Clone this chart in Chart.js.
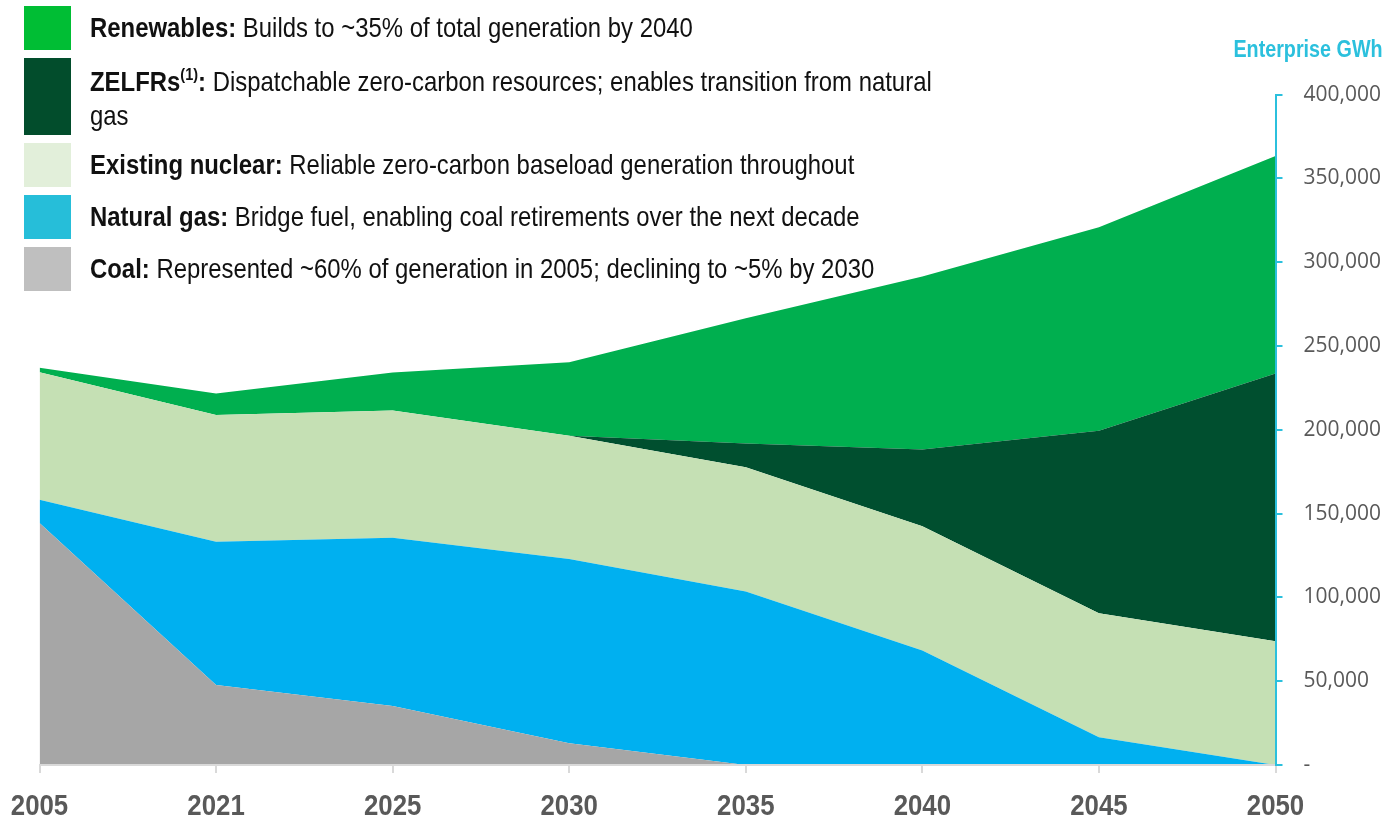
<!DOCTYPE html>
<html>
<head>
<meta charset="utf-8">
<script src="https://cdn.jsdelivr.net/npm/chart.js@4.4.1/dist/chart.umd.min.js"></script>
<style>
  html, body { margin: 0; padding: 0; background: #ffffff; }
  #wrap { position: relative; width: 1389px; height: 819px; overflow: hidden; }
  #chart { position: absolute; left: 0; top: 0; }
  .legend { position: absolute; left: 0; top: 0; font-family: "Liberation Sans", Arial, sans-serif; color: #111; font-size: 28px; line-height: 34px; }
  .item { position: absolute; left: 24px; }
  .swatch { position: absolute; left: 0; width: 47px; }
  .txt { position: absolute; left: 66px; white-space: nowrap; transform: scaleX(0.854); transform-origin: 0 0; }
  .txt b { font-weight: bold; }
  .txt sup { font-size: 17px; line-height: 0; vertical-align: 11px; }
  .unit { position: absolute; right: 6px; top: 36px; font-family: "Liberation Sans", Arial, sans-serif; font-weight: bold; font-size: 23.5px; color: #2BC0DD; transform: scaleX(0.84); transform-origin: 100% 0; white-space: nowrap; }
</style>
</head>
<body>
<div id="wrap">
  <canvas id="chart" width="1389" height="819"></canvas>
  <div class="legend">
    <div class="item" style="top:6px;"><div class="swatch" style="height:44px;background:#00BE34;"></div><div class="txt" style="top:5px;"><b>Renewables:</b> Builds to ~35% of total generation by 2040</div></div>
    <div class="item" style="top:58px;"><div class="swatch" style="height:77px;background:#024D2C;"></div><div class="txt" style="top:7px;"><b>ZELFRs<sup>(1)</sup>:</b> Dispatchable zero-carbon resources; enables transition from natural<br>gas</div></div>
    <div class="item" style="top:143px;"><div class="swatch" style="height:44px;background:#E2EFDA;"></div><div class="txt" style="top:5px;"><b>Existing nuclear:</b> Reliable zero-carbon baseload generation throughout</div></div>
    <div class="item" style="top:195px;"><div class="swatch" style="height:44px;background:#26BED9;"></div><div class="txt" style="top:5px;"><b>Natural gas:</b> Bridge fuel, enabling coal retirements over the next decade</div></div>
    <div class="item" style="top:247px;"><div class="swatch" style="height:44px;background:#BFBFBF;"></div><div class="txt" style="top:5px;"><b>Coal:</b> Represented ~60% of generation in 2005; declining to ~5% by 2030</div></div>
  </div>
  <div class="unit">Enterprise GWh</div>
</div>
<script>
// Generation mix by year (GWh)
const years = ['2005', '2021', '2025', '2030', '2035', '2040', '2045', '2050'];
const coal       = [144400, 47800, 35200, 13000, 0, 0, 0, 0];
const naturalGas = [13900, 85400, 100400, 109900, 103500, 68300, 16500, 0];
const nuclear    = [76100, 75700, 75900, 73600, 74100, 74100, 74100, 73900];
const zelfrs     = [0, 0, 0, 0, 14200, 45800, 108900, 159700];
const renewables = [2600, 12700, 22700, 43800, 74700, 103300, 121300, 129800];
const yTicks = [0, 50000, 100000, 150000, 200000, 250000, 300000, 350000, 400000];

const CYAN = '#2BC0DD';

function area(label, values, color, fill) {
  return {
    label, data: values, backgroundColor: color, borderColor: color,
    borderWidth: 0, pointRadius: 0, pointHoverRadius: 0, tension: 0, fill
  };
}

// Condensed bold year labels under the x axis, placed at the category scale's tick pixels
const condensedYearLabels = {
  id: 'condensedYearLabels',
  afterDraw(chart) {
    const scale = chart.scales.x;
    const ctx = chart.ctx;
    ctx.save();
    ctx.font = 'bold 30px "Liberation Sans", Arial, sans-serif';
    ctx.fillStyle = '#595959';
    ctx.textAlign = 'center';
    ctx.textBaseline = 'alphabetic';
    scale.ticks.forEach((t, i) => {
      const x = scale.getPixelForTick(i);
      ctx.save();
      ctx.translate(x, chart.chartArea.bottom + 50);
      ctx.scale(0.86, 1);
      ctx.fillText(scale.getLabelForValue(t.value), 0, 0);
      ctx.restore();
    });
    ctx.restore();
  }
};

new Chart(document.getElementById('chart'), {
  type: 'line',
  data: {
    labels: years,
    datasets: [
      area('Coal', coal, '#A6A6A6', 'origin'),
      area('Natural gas', naturalGas, '#00B0F0', '-1'),
      area('Existing nuclear', nuclear, '#C5E0B4', '-1'),
      area('ZELFRs', zelfrs, '#004F2F', '-1'),
      area('Renewables', renewables, '#00AF4F', '-1')
    ]
  },
  plugins: [condensedYearLabels],
  options: {
    responsive: false,
    devicePixelRatio: 1,
    animation: false,
    layout: { padding: { left: 39.5, top: 94.6, right: 0, bottom: 0 } },
    plugins: { legend: { display: false }, tooltip: { enabled: false } },
    elements: { line: { borderWidth: 0 } },
    scales: {
      x: {
        offset: false,
        grid: { drawOnChartArea: false, drawTicks: true, tickLength: 8, color: '#D9D9D9', lineWidth: 2 },
        border: { display: true, color: '#D9D9D9', width: 2, z: 1 },
        ticks: { display: false },
        afterFit: (s) => { s.height = 54; }
      },
      y: {
        position: 'right',
        stacked: true,
        min: 0, max: 400000,
        afterBuildTicks: (s) => { s.ticks = yTicks.map(v => ({ value: v })); },
        grid: { drawOnChartArea: false, drawTicks: true, tickLength: 7, color: CYAN, lineWidth: 2 },
        border: { display: true, color: CYAN, width: 2, z: 1 },
        ticks: {
          font: { family: '"Open Sans", sans-serif', size: 21 },
          color: '#595959',
          padding: 21,
          callback: (v) => v === 0 ? '-' : v.toLocaleString('en-US')
        },
        afterFit: (s) => { s.width = 113.5; }
      }
    }
  }
});
</script>
</body>
</html>
